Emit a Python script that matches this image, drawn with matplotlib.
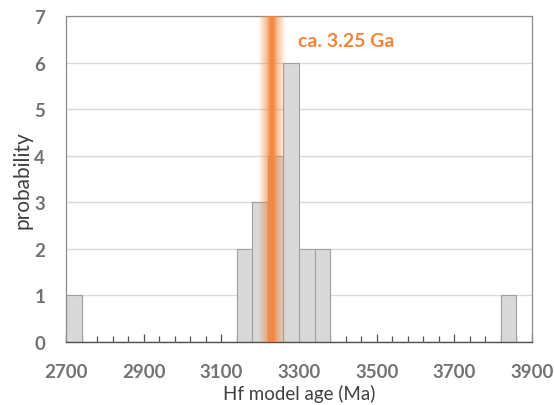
import numpy as np
import matplotlib
matplotlib.use("Agg")
import matplotlib.pyplot as plt
from matplotlib.ticker import FixedLocator

plt.rcParams["font.family"] = ["Lato", "DejaVu Sans"]

# histogram bins (left edge, Ma) and counts
bin_left = [2700, 3140, 3180, 3220, 3260, 3300, 3340, 3820]
counts = [1, 2, 3, 4, 6, 2, 2, 1]
bin_width = 40
major_ticks = [2700, 2900, 3100, 3300, 3500, 3700, 3900]

# highlighted age band
band_center = 3229
band_halfwidth = 46
band_label = "ca. 3.25 Ga"

orange = "#f5843a"
grey_txt = "#737373"

fig = plt.figure(figsize=(5.54, 4.06), dpi=100)
ax = fig.add_axes([66 / 554, 1 - 343 / 406, 466 / 554, 326 / 406])

ax.bar(bin_left, counts, width=bin_width, align="edge",
       color="#d9d9d9", edgecolor="#a0a0a0", linewidth=0.8, zorder=2)

# soft orange band drawn as a horizontal alpha gradient
xs = np.linspace(-1, 1, 200)
alpha = np.clip(0.6 * np.exp(-(xs / 0.22) ** 2) + 0.5 * np.exp(-(xs / 0.62) ** 4) - 0.03, 0, 0.95)
rgba = np.zeros((1, len(xs), 4))
rgba[..., :3] = matplotlib.colors.to_rgb(orange)
rgba[..., 3] = alpha
ax.imshow(rgba, extent=[band_center - band_halfwidth, band_center + band_halfwidth, 0, 7],
          aspect="auto", interpolation="bilinear", zorder=3)

ax.text(3297, 6.48, band_label, color=orange, fontsize=14, fontweight="bold",
        va="center", ha="left")

ax.set_xlim(2700, 3900)
ax.set_ylim(0, 7)
ax.xaxis.set_major_locator(FixedLocator(major_ticks))
ax.xaxis.set_minor_locator(FixedLocator(np.arange(2700, 3901, bin_width)))
ax.set_yticks(range(8))
ax.grid(axis="y", color="#d9d9d9", linewidth=1, zorder=0)
ax.set_axisbelow(True)

ax.tick_params(axis="x", which="major", direction="in", length=6, width=0.9,
               color="#505050", pad=15, labelsize=13.5, labelcolor=grey_txt)
ax.tick_params(axis="x", which="minor", direction="in", length=4, width=0.9,
               color="#505050")
ax.tick_params(axis="y", length=0, pad=15, labelsize=13.5, labelcolor=grey_txt)
for lab in ax.get_xticklabels() + ax.get_yticklabels():
    lab.set_fontweight("bold")

for side in ("left", "top", "right"):
    ax.spines[side].set_color("#8c8c8c")
    ax.spines[side].set_linewidth(0.9)
ax.spines["bottom"].set_color("#505050")
ax.spines["bottom"].set_linewidth(1.0)

ax.set_xlabel("Hf model age (Ma)", fontsize=13.5, color="#404040", labelpad=3)
ax.set_ylabel("probability", fontsize=15, color="#404040", labelpad=1)

fig.savefig("out.png", dpi=100)
